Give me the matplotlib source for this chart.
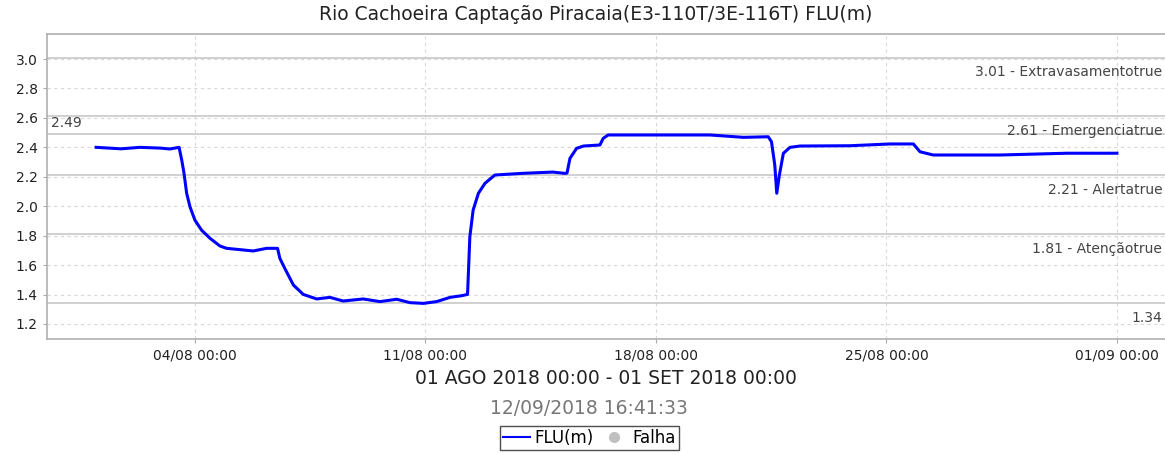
import numpy as np
import pandas as pd
import matplotlib
matplotlib.use("Agg")
import matplotlib.pyplot as plt
import matplotlib.dates as mdates
from matplotlib.lines import Line2D

# dias desde 01/08/2018 00:00 e nível (m)
dias = [0.00, 0.76, 1.33, 1.94, 2.24, 2.52, 2.60, 2.67, 2.75, 2.85, 3.00, 3.20, 3.46,
        3.76, 3.96, 4.37, 4.77, 5.18, 5.51, 5.58, 5.73, 5.99, 6.29, 6.70, 7.10, 7.50,
        8.11, 8.62, 9.13, 9.53, 9.94, 10.34, 10.75, 11.10, 11.28, 11.35, 11.45, 11.61,
        11.81, 12.11, 12.92, 13.43, 13.87, 14.24, 14.30, 14.39, 14.59, 14.80, 15.30,
        15.40, 15.55, 17.02, 18.64, 19.66, 20.41, 20.51, 20.61, 20.67, 20.75, 20.87,
        21.07, 21.38, 22.90, 24.11, 24.82, 25.02, 25.42, 27.45, 29.48, 31.00]
nivel = [2.40, 2.39, 2.40, 2.395, 2.389, 2.40, 2.314, 2.224, 2.088, 1.997, 1.906, 1.838,
         1.782, 1.730, 1.714, 1.705, 1.696, 1.714, 1.714, 1.646, 1.578, 1.465, 1.401,
         1.370, 1.381, 1.356, 1.370, 1.352, 1.368, 1.345, 1.34, 1.352, 1.381, 1.392,
         1.401, 1.793, 1.974, 2.088, 2.156, 2.212, 2.223, 2.228, 2.232, 2.223, 2.225,
         2.325, 2.393, 2.409, 2.416, 2.461, 2.484, 2.484, 2.484, 2.468, 2.472, 2.438,
         2.280, 2.088, 2.212, 2.359, 2.400, 2.409, 2.411, 2.423, 2.423, 2.37, 2.348,
         2.348, 2.36, 2.36]

# cotas de referência
cotas = [3.01, 2.61, 2.21, 1.81, 1.34]
cotas_txt = ["3.01 - Extravasamentotrue", "2.61 - Emergenciatrue", "2.21 - Alertatrue",
             "1.81 - Atençãotrue", "1.34"]
maximo = 2.49

inicio = pd.Timestamp("2018-08-01 00:00")
tempo = [inicio + pd.Timedelta(days=d) for d in dias]

fig = plt.figure(figsize=(11.65, 4.54), dpi=100)
ax = fig.add_axes([46.7 / 1165, 1 - 339 / 454, (1165 - 46.7) / 1165, (339 - 34) / 454])

ax.set_xlim(inicio - pd.Timedelta(days=1.50), inicio + pd.Timedelta(days=32.46))
ax.set_ylim(1.098, 3.170)
ax.set_yticks(np.arange(1.2, 3.01, 0.2))
ax.set_xticks([pd.Timestamp(s) for s in ["2018-08-04", "2018-08-11", "2018-08-18",
                                          "2018-08-25", "2018-09-01"]])
ax.xaxis.set_major_formatter(mdates.DateFormatter("%d/%m %H:%M"))

ax.grid(True, color="#d8d8d8", linestyle=(0, (3, 3)), linewidth=0.8)
ax.spines["right"].set_visible(False)
for s in ["left", "bottom", "top"]:
    ax.spines[s].set_color("#b0b0b0")
    ax.spines[s].set_linewidth(1.2)
ax.tick_params(axis="both", colors="#aaaaaa", labelcolor="#222222", labelsize=10, length=3)

for c, t in zip(cotas, cotas_txt):
    ax.axhline(c, color="#c8c8c8", linewidth=1.2)
    ax.annotate(t, xy=(1.0, c), xycoords=("axes fraction", "data"), xytext=(-2, -10.5),
                textcoords="offset points", ha="right", va="center", fontsize=10, color="#444444")
ax.axhline(maximo, color="#c8c8c8", linewidth=1.2)
ax.annotate(f"{maximo:.2f}", xy=(0.0, maximo), xycoords=("axes fraction", "data"), xytext=(3, 8),
            textcoords="offset points", ha="left", va="center", fontsize=10, color="#444444")

ax.plot(tempo, nivel, color="#0000ff", linewidth=2.2, solid_joinstyle="round")

fig.text(596 / 1165, 1 - 14 / 454, "Rio Cachoeira Captação Piracaia(E3-110T/3E-116T) FLU(m)",
         ha="center", va="center", fontsize=13.5, color="#222222")
fig.text(606 / 1165, 1 - 378 / 454, "01 AGO 2018 00:00 - 01 SET 2018 00:00",
         ha="center", va="center", fontsize=13.5, color="#222222")
fig.text(589 / 1165, 1 - 409 / 454, "12/09/2018 16:41:33",
         ha="center", va="center", fontsize=13.5, color="#777777")

handles = [Line2D([0], [0], color="#0000ff", linewidth=1.5),
           Line2D([0], [0], marker="o", color="#c0c0c0", linestyle="none", markersize=7)]
leg = fig.legend(handles, ["FLU(m)", "Falha"], loc="center", bbox_to_anchor=(589.5 / 1165, 1 - 438 / 454),
                 ncol=2, fontsize=12, frameon=True, fancybox=False, handlelength=1.6,
                 handletextpad=0.3, columnspacing=0.4, borderpad=0.2, borderaxespad=0)
leg.get_frame().set_edgecolor("#222222")
leg.get_frame().set_linewidth(1.0)

fig.savefig("out.png", dpi=100)
